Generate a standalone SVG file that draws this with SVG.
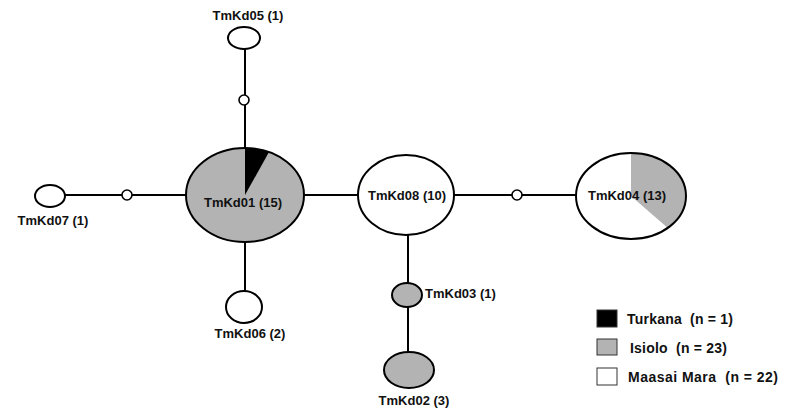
<svg xmlns="http://www.w3.org/2000/svg" width="795" height="413" viewBox="0 0 795 413">
<style>
.n{stroke:#000;stroke-width:2}
.w{fill:#fff}
.g{fill:#b3b3b3}
.k{fill:#000}
.e{stroke:#000;stroke-width:2;fill:none}
.l{stroke:#000;stroke-width:2;fill:none}
.s{fill:#fff;stroke:#000;stroke-width:1.6}
text{font-family:"Liberation Sans",Arial,sans-serif;font-weight:bold;font-size:13px;fill:#111}
.c{text-anchor:middle}
.lg{font-size:14px}
</style>
<rect width="795" height="413" fill="#fff"/>
<g id="connectors">
<line class="l" x1="245" y1="49" x2="245" y2="148"/>
<line class="l" x1="65" y1="195" x2="186" y2="195"/>
<line class="l" x1="245" y1="242" x2="245" y2="291"/>
<line class="l" x1="304" y1="195" x2="358" y2="195"/>
<line class="l" x1="454" y1="195" x2="576" y2="195"/>
<line class="l" x1="408" y1="235" x2="408" y2="283"/>
<line class="l" x1="408" y1="307" x2="408" y2="353"/>
<circle class="s" cx="244" cy="100" r="5"/>
<circle class="s" cx="127" cy="195" r="5"/>
<circle class="s" cx="517" cy="195" r="5"/>
</g>
<g id="TmKd01">
<ellipse class="g" cx="245" cy="195" rx="59" ry="47"/>
<path class="k" d="M245,195 L245,148 A59,47 0 0 1 269,152.1 Z"/>
<ellipse class="e" cx="245" cy="195" rx="59" ry="47"/>
<text class="c" x="243" y="207">TmKd01 (15)</text>
</g>
<g id="TmKd05">
<ellipse class="n w" cx="244" cy="38" rx="16" ry="11"/>
<text class="c" x="248" y="20">TmKd05 (1)</text>
</g>
<g id="TmKd07">
<ellipse class="n w" cx="50" cy="196" rx="15" ry="11"/>
<text class="c" x="53" y="225">TmKd07 (1)</text>
</g>
<g id="TmKd06">
<ellipse class="n w" cx="244" cy="307" rx="18" ry="16"/>
<text class="c" x="250" y="338">TmKd06 (2)</text>
</g>
<g id="TmKd08">
<ellipse class="n w" cx="406" cy="195" rx="48" ry="40"/>
<text class="c" x="407" y="200">TmKd08 (10)</text>
</g>
<g id="TmKd04">
<ellipse class="w" cx="631" cy="196" rx="55" ry="43"/>
<path class="g" d="M631,196 L631,153 A55,43 0 0 1 667.8,228 Z"/>
<ellipse class="e" cx="631" cy="196" rx="55" ry="43"/>
<text class="c" x="627" y="200">TmKd04 (13)</text>
</g>
<g id="TmKd03">
<ellipse class="n g" cx="407" cy="295" rx="15" ry="12"/>
<text x="425" y="298">TmKd03 (1)</text>
</g>
<g id="TmKd02">
<ellipse class="n g" cx="409" cy="370" rx="25" ry="18"/>
<text class="c" x="414" y="405">TmKd02 (3)</text>
</g>
<g id="legend">
<rect x="597" y="310" width="20" height="17" fill="#000" stroke="#333" stroke-width="1"/>
<rect x="597" y="339" width="20" height="16" class="g" stroke="#333" stroke-width="1"/>
<rect x="597" y="368" width="20" height="17" fill="#fff" stroke="#333" stroke-width="1"/>
<text class="lg" x="627" y="324" xml:space="preserve" textLength="106" lengthAdjust="spacing">Turkana  (n = 1)</text>
<text class="lg" x="630" y="353" xml:space="preserve" textLength="97" lengthAdjust="spacing">Isiolo  (n = 23)</text>
<text class="lg" x="628" y="382" xml:space="preserve" textLength="150" lengthAdjust="spacing">Maasai Mara  (n = 22)</text>
</g>
</svg>
